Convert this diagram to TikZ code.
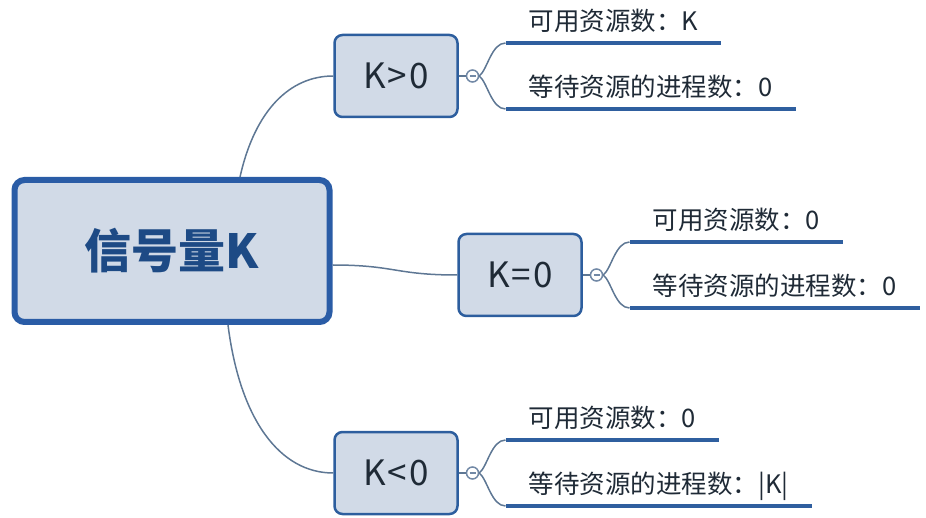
\documentclass[tikz,border=0pt]{standalone}
\usepackage{fontspec}
\newfontfamily\cjk{Noto Sans CJK SC}
\newfontfamily\cjkblack{Noto Sans CJK SC Black}
\usetikzlibrary{positioning}
\definecolor{boxfill}{HTML}{D1DAE7}
\definecolor{boxline}{HTML}{2D5E9E}
\definecolor{rootline}{HTML}{2A5CA6}
\definecolor{roottext}{HTML}{1D4A85}
\definecolor{linkline}{HTML}{5E7794}
\definecolor{leafline}{HTML}{2F5F9F}
\definecolor{foldline}{HTML}{7289A6}
\definecolor{inktext}{HTML}{1F2A36}
\tikzset{
    rootbox/.style={draw=rootline, line width=6pt, fill=boxfill, rounded corners=10pt,
        minimum width=315pt, minimum height=142pt,
        font=\cjkblack\fontsize{47}{47}\selectfont, text=roottext},
    kbox/.style={draw=boxline, line width=2.5pt, fill=boxfill, rounded corners=8pt,
        minimum width=123pt, minimum height=82pt,
        font=\cjk\fontsize{35}{35}\selectfont, text=inktext},
    fold/.style={circle, draw=foldline, line width=1.5pt, fill=white, minimum size=12pt, inner sep=0pt},
    leaf/.style={anchor=south west, inner xsep=23pt, inner ysep=0pt, text depth=12.5pt,
        font=\cjk\fontsize{25.5}{25.5}\selectfont, text=inktext},
    link/.style={draw=linkline, line width=1.5pt},
    underline/.style={draw=leafline, line width=4pt},
}
\newcommand\KBranch[5]{%
    \node[kbox] (#1) at #2 {#3};
    \node[fold, right=7pt of #1] (#1f) {};
    \draw[foldline, line width=1.2pt] ([xshift=-3pt]#1f.center) -- ([xshift=3pt]#1f.center);
    \draw[link] (#1.east) -- (#1f.west);
    \node[leaf] (#1a) at ([xshift=33pt,yshift=33pt]#1f.center) {#4};
    \node[leaf] (#1b) at ([xshift=33pt,yshift=-33pt]#1f.center) {#5};
    \draw[underline] (#1a.south west) -- (#1a.south east);
    \draw[underline] (#1b.south west) -- (#1b.south east);
    \draw[link] (#1f.east) .. controls +(8,-6) and +(-14,0) .. (#1a.south west);
    \draw[link] (#1f.east) .. controls +(8,6) and +(-14,0) .. (#1b.south west);
}
\begin{document}
\begin{tikzpicture}[x=1pt,y=-1pt]
    \useasboundingbox (0,0) rectangle (926,518);
    \node[rootbox] (root) at (172,251) {信号量K};
    % three cases of K
    \KBranch{k1}{(396,76)}{K\kern2pt>\kern2pt0}{可用资源数：K}{等待资源的进程数：0}
    \KBranch{k2}{(520,275)}{K\kern2pt=\kern2pt0}{可用资源数：0}{等待资源的进程数：0}
    \KBranch{k3}{(396,473)}{K\kern2pt<\kern2pt0}{可用资源数：0}{等待资源的进程数：|K|}
    \draw[link] ([xshift=68pt]root.north) .. controls (255,110) and (290,76) .. (k1.west);
    \draw[link] ([yshift=-14pt]root.east) .. controls (395,265) and (395,275) .. (k2.west);
    \draw[link] ([xshift=56pt]root.south) .. controls (240,420) and (280,473) .. (k3.west);
\end{tikzpicture}
\end{document}
